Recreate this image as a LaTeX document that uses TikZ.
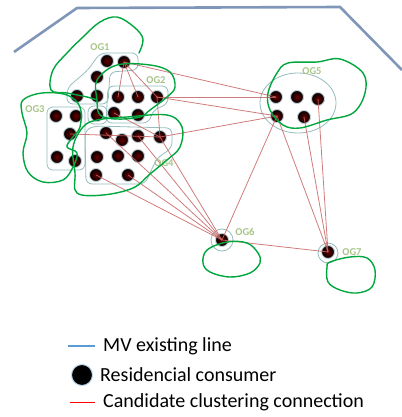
\documentclass[tikz,border=0pt]{standalone}
\usepackage{fontspec}
\setmainfont{Carlito}
\usepackage{tikz}
\usetikzlibrary{positioning,calc}

\definecolor{mvblue}{RGB}{128,150,184}
\definecolor{legblue}{RGB}{91,155,213}
\definecolor{linkred}{RGB}{200,100,100}
\definecolor{handgreen}{RGB}{0,166,62}
\definecolor{tealgrey}{RGB}{150,188,190}
\definecolor{taggreen}{RGB}{168,196,136}

\begin{document}
\begin{tikzpicture}[
		x=1pt, y=-1pt,
		house/.style={circle, inner sep=0pt, minimum size=13pt, inner color=red!40!black, outer color=black, draw=cyan!25!gray!45, line width=0.9pt},
		grp/.style={draw=tealgrey, line width=0.8pt, rounded corners=6pt},
		hand/.style={draw=handgreen, line width=1.4pt, line join=round, line cap=round},
		link/.style={draw=linkred, line width=0.8pt, opacity=0.85},
		mv/.style={draw=mvblue, line width=2.6pt},
		tag/.style={font=\bfseries\fontsize{10.5}{10.5}\selectfont, text=taggreen, inner sep=0pt},
		legtext/.style={font=\fontsize{20}{20}\selectfont, inner sep=0pt, anchor=west}
		]
		\useasboundingbox (0,0) rectangle (401,417);
		
		% MV existing line
		\coordinate (mv0) at (14,52);
		\coordinate (mv1) at (77,8);
		\coordinate (mv2) at (340,7);
		\coordinate (mv3) at (402,70);
		\draw[mv] (mv0) -- (mv1) -- (mv2) -- (mv3);
		
		% group outlines
		\draw[grp] (100,53) -- (138,53) -- (138,70) -- (110,72) -- (108,104) -- (67,104) -- (67,88) -- (88,70) -- cycle;
		\draw[grp] (108,86) -- (168,86) -- (168,104) -- (153,110) -- (149,123) -- (106,123) -- cycle;
		\draw[grp] (88,106) rectangle (107,124);
		\draw[grp] (47,107) rectangle (85,170);
		\draw[grp] (95,126) -- (172,128) -- (172,148) -- (157,158) -- (145,184) -- (86,184) -- (85,130) -- cycle;
		\draw[grp] (298,103) ellipse [x radius=38, y radius=30];
		\draw[grp] (222,240) circle [radius=11];
		\draw[grp] (328,253) circle [radius=10];
		
		% consumers
		\node[house] (a1) at (107,61) {};
		\node[house] (a2) at (124,62) {};
		\node[house] (a3) at (97,77) {};
		\node[house] (a4) at (77,96) {};
		\node[house] (a5) at (97,96) {};
		\node[house] (b1) at (118,97) {};
		\node[house] (b2) at (138,97) {};
		\node[house] (b3) at (157,97) {};
		\node[house] (b4) at (114,113) {};
		\node[house] (b5) at (138,115) {};
		\node[house] (c0) at (97,115) {};
		\node[house] (c1) at (56,116) {};
		\node[house] (c2) at (76,116) {};
		\node[house] (c3) at (70,134) {};
		\node[house] (c4) at (57,157) {};
		\node[house] (c5) at (75,161) {};
		\node[house] (d1) at (106,133) {};
		\node[house] (d2) at (122,140) {};
		\node[house] (d3) at (138,136) {};
		\node[house] (d4) at (160,137) {};
		\node[house] (d5) at (97,157) {};
		\node[house] (d6) at (118,156) {};
		\node[house] (d7) at (138,156) {};
		\node[house] (d8) at (96,175) {};
		\node[house] (d9) at (128,175) {};
		\node[house] (e1) at (276,97) {};
		\node[house] (e2) at (297,97) {};
		\node[house] (e3) at (318,99) {};
		\node[house] (e4) at (277,116) {};
		\node[house] (e5) at (304,117) {};
		\node[house] (f1) at (222,240) {};
		\node[house] (g1) at (328,252) {};
		
		% candidate clustering connections
		\foreach \s/\t in {a2/b1, a2/b2, a2/b3, a2/e1, b3/e1, b3/e4, d4/e4, b3/d4, b4/d4, c3/d4,
			e4/f1, e4/g1, e5/g1, e3/g1, f1/g1, d1/f1, d3/f1, d4/f1, d8/f1, d9/f1}
		\draw[link] (\s.center) -- (\t.center);
		
		% group tags
		\node[tag] (og1) at (100,47) {OG1};
		\node[tag] (og2) at (156,80) {OG2};
		\node[tag] (og3) at (35,109) {OG3};
		\node[tag] (og4) at (164,163) {OG4};
		\node[tag] (og5) at (312,71) {OG5};
		\node[tag] (og6) at (245,232) {OG6};
		\node[tag] (og7) at (352,252) {OG7};
		
		% hand drawn clusters
		\draw[hand] plot[smooth, tension=0.6] coordinates {(139,53) (143,39) (134,27) (117,17) (100,22) (83,37) (67,53) (53,70) (51,90) (67,93) (87,97) (97,100)};
		\draw[hand] plot[smooth cycle, tension=0.6] coordinates {(97,80) (117,65) (150,65) (170,72) (175,87) (167,97) (150,110) (140,117) (117,119) (100,115) (97,100)};
		\draw[hand] plot[smooth cycle, tension=0.6] coordinates {(23,100) (42,93) (67,95) (80,107) (80,127) (72,138) (67,147) (77,153) (73,167) (63,180) (43,182) (28,172) (23,153) (27,133) (22,113)};
		\draw[hand] plot[smooth cycle, tension=0.6] coordinates {(97,120) (127,117) (167,115) (182,127) (180,147) (167,160) (150,174) (133,188) (103,195) (77,193) (75,173) (73,147) (83,127)};
		\draw[hand] plot[smooth cycle, tension=0.6] coordinates {(288,63) (317,62) (340,59) (363,73) (365,93) (353,113) (327,120) (300,128) (283,125) (270,110) (268,93) (277,73)};
		\draw[hand] plot[smooth cycle, tension=0.6] coordinates {(207,250) (227,242) (247,243) (258,253) (260,263) (250,273) (230,277) (210,272) (203,263)};
		\draw[hand] plot[smooth cycle, tension=0.6] coordinates {(330,262) (350,257) (367,258) (375,270) (372,287) (357,293) (340,290) (328,282) (327,267)};
		
		% legend
		\coordinate (lmvA) at (68,346);
		\coordinate (lmvB) at (95,346);
		\draw[draw=legblue, line width=2.2pt] (lmvA) -- (lmvB);
		\node[legtext, right=8pt of lmvB] (tmv) {MV existing line};
		
		\node[circle, inner sep=0pt, minimum size=21pt, fill=black, draw=legblue!40, line width=1pt] (ldot) at (82,375) {};
		\node[legtext, right=7pt of ldot] (tdot) {Residencial consumer};
		
		\coordinate (lcA) at (70,402);
		\coordinate (lcB) at (95,402);
		\draw[draw=red, line width=0.9pt] (lcA) -- (lcB);
		\node[legtext, right=8pt of lcB] (tcand) {Candidate clustering connection};
		
	\end{tikzpicture}
\end{document}
